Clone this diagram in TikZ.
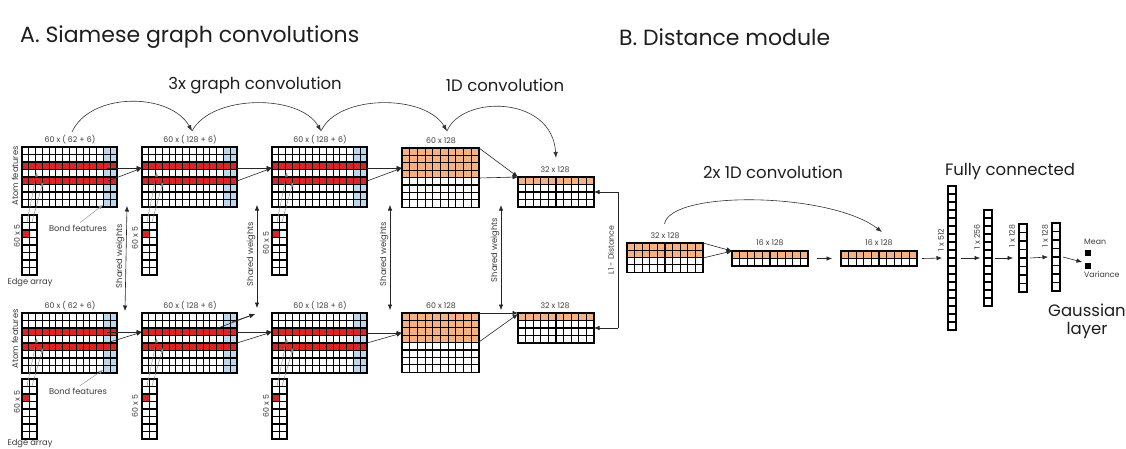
\documentclass[tikz,border=0pt]{standalone}
\usepackage{fontspec}
\setmainfont{Poppins}
\usetikzlibrary{arrows.meta,calc}
\definecolor{redc}{RGB}{218,37,37}
\definecolor{bluec}{RGB}{189,215,238}
\definecolor{orc}{RGB}{244,177,131}
\definecolor{txt}{RGB}{60,60,60}
\definecolor{ttl}{RGB}{30,30,30}
\tikzset{
  gl/.style={draw=black, line width=1.1pt, line cap=rect},
  box/.style={draw=none, inner sep=0pt, outer sep=0pt, anchor=north west},
  conn/.style={draw=black!85, line width=0.6pt, -{Latex[length=5.5pt,width=4.5pt]}},
  dconn/.style={draw=black!85, line width=0.6pt, {Latex[length=5.5pt,width=4.5pt]}-{Latex[length=5.5pt,width=4.5pt]}},
  plain/.style={draw=black!85, line width=0.6pt},
  thinl/.style={draw=black!45, line width=0.45pt, -{Latex[length=4.5pt,width=3.5pt]}},
  arcl/.style={draw=black!80, line width=0.6pt, -{Latex[length=6pt,width=4.5pt]}},
  title/.style={font=\fontsize{22}{25}\selectfont, text=ttl, inner sep=0pt},
  mid/.style={font=\fontsize{16.5}{19}\selectfont, text=ttl, inner sep=0pt},
  lab/.style={font=\fontsize{7.8}{9}\selectfont, text=txt, inner sep=0pt},
  slab/.style={font=\fontsize{8.3}{10}\selectfont, text=txt, inner sep=0pt},
}
\newcommand{\cellgrid}[6]{%
  \foreach \ii in {0,...,#3}{\draw[gl] ({#1+\ii*#5},{#2}) -- ({#1+\ii*#5},{#2+#4*#6});}%
  \foreach \jj in {0,...,#4}{\draw[gl] ({#1},{#2+\jj*#6}) -- ({#1+#3*#5},{#2+\jj*#6});}%
}
\newcommand{\gcblock}[3]{%
  \node[box, minimum width=95pt, minimum height=60pt, fill=white] (#1) at (#2,#3) {};
  \fill[bluec] ({#2+81.43},{#3}) rectangle ({#2+95},{#3+60});
  \fill[redc] ({#2},{#3+15}) rectangle ({#2+95},{#3+22.5});
  \fill[redc] ({#2},{#3+30}) rectangle ({#2+95},{#3+37.5});
  \cellgrid{#2}{#3}{14}{8}{6.7857}{7.5}%
}
\newcommand{\edgearr}[3]{%
  \node[box, minimum width=15pt, minimum height=60pt, fill=white] (#1) at (#2,#3) {};
  \fill[redc] ({#2},{#3+15}) rectangle ({#2+7.5},{#3+22.5});
  \cellgrid{#2}{#3}{2}{8}{7.5}{7.5}%
}
\newcommand{\oblock}[8]{%
  \node[box, minimum width={#4*#6*1pt}, minimum height={#5*#7*1pt}, fill=white] (#1) at (#2,#3) {};
  \fill[orc] ({#2},{#3}) rectangle ({#2+#4*#6},{#3+#8*#7});
  \cellgrid{#2}{#3}{#4}{#5}{#6}{#7}%
}
\newcommand{\fccol}[5]{%
  \node[box, minimum width=8pt, minimum height={#4*#5*1pt}, fill=white] (#1) at (#2,#3) {};
  \cellgrid{#2}{#3}{1}{#4}{8}{#5}%
}
\begin{document}
\begin{tikzpicture}[x=1pt,y=-1pt]
\fill[white] (0,0) rectangle (1126,449);
\useasboundingbox (0,0) rectangle (1126,449);

% titles
\node[title, anchor=west] (tA) at (20,37) {A. Siamese graph convolutions};
\node[title, anchor=west] (tB) at (619,37) {B. Distance module};
\node[mid] (hgc) at (255,85) {3x graph convolution};
\node[mid] (h1d) at (505,85) {1D convolution};
\node[mid] (h2x) at (773,172) {2x 1D convolution};
\node[mid] (hfc) at (1010,172) {Fully connected};
\node[mid] (hg1) at (1087,310) {Gaussian};
\node[mid] (hg2) at (1087,331) {layer};

% ---------- top row ----------
\gcblock{t1}{22}{147}
\gcblock{t2}{142}{147}
\gcblock{t3}{272}{147}
\oblock{t4}{402}{148}{10}{8}{7.7}{7.4}{4}
\oblock{t5}{518}{177}{10}{4}{7.6}{7.5}{1}
\edgearr{e1}{22}{215}
\edgearr{e2}{142}{215}
\edgearr{e3}{272}{215}

% ---------- bottom row ----------
\gcblock{b1}{22}{313}
\gcblock{b2}{142}{313}
\gcblock{b3}{272}{313}
\oblock{b4}{402}{313}{10}{8}{7.7}{7.4}{4}
\oblock{b5}{518}{313}{10}{4}{7.6}{7.5}{1}
\edgearr{f1}{22}{379}
\edgearr{f2}{142}{379}
\edgearr{f3}{272}{379}

% ---------- distance module ----------
\oblock{d1}{627}{243}{10}{4}{7.6}{7.3}{2}
\oblock{d2}{732}{251}{10}{2}{7.6}{7.5}{1}
\oblock{d3}{841}{251}{10}{2}{7.6}{7.5}{1}
\fccol{fc1}{948}{186}{18}{8}
\fccol{fc2}{984}{210}{12}{8}
\fccol{fc3}{1019}{224}{8}{8.5}
\fccol{fc4}{1052}{223}{8}{8.5}
\node[box, fill=black, minimum width=6pt, minimum height=6pt] (mean) at (1085,250) {};
\node[box, fill=black, minimum width=6pt, minimum height=6pt] (var) at (1085,263) {};

% ---------- block labels ----------
\node[lab] (l1) at (70,140) {60 x ( 62 + 6)};
\node[lab] (l2) at (190,140) {60 x ( 128 + 6)};
\node[lab] (l3) at (320,140) {60 x ( 128 + 6)};
\node[lab] (l4) at (441,141) {60 x 128};
\node[lab] (l5) at (555,170) {32 x 128};
\node[lab] (m1) at (70,306) {60 x ( 62 + 6)};
\node[lab] (m2) at (190,306) {60 x ( 128 + 6)};
\node[lab] (m3) at (320,306) {60 x ( 128 + 6)};
\node[lab] (m4) at (441,306) {60 x 128};
\node[lab] (m5) at (555,306) {32 x 128};
\node[lab] (ld1) at (665,236) {32 x 128};
\node[lab] (ld2) at (770,243) {16 x 128};
\node[lab] (ld3) at (879,243) {16 x 128};
\node[lab, rotate=90] (lf1) at (941,240) {1 x 512};
\node[lab, rotate=90] (lf2) at (977,237) {1 x 256};
\node[lab, rotate=90] (lf3) at (1012,236) {1 x 128};
\node[lab, rotate=90] (lf4) at (1045,236) {1 x 128};
\node[lab, anchor=west] (lmean) at (1084,242) {Mean};
\node[lab, anchor=west] (lvar) at (1084,275) {Variance};

\node[slab, rotate=90] (af1) at (15,176) {Atom features};
\node[slab, rotate=90] (af2) at (15,339) {Atom features};
\node[slab] (bf1) at (78,228) {Bond features};
\node[slab] (bf2) at (78,391) {Bond features};
\node[slab] (ea1) at (30,283) {Edge array};
\node[slab] (ea2) at (30,444) {Edge array};
\node[lab, rotate=90] (s1) at (17,236) {60 x 5};
\node[lab, rotate=90] (s2) at (135,238) {60 x 5};
\node[lab, rotate=90] (s3) at (266,243) {60 x 5};
\node[lab, rotate=90] (s4) at (17,402) {60 x 5};
\node[lab, rotate=90] (s5) at (135,406) {60 x 5};
\node[lab, rotate=90] (s6) at (266,406) {60 x 5};
\node[slab, rotate=90] (w1) at (120,256) {Shared weights};
\node[slab, rotate=90] (w2) at (251,254) {Shared weights};
\node[slab, rotate=90] (w3) at (384,254) {Shared weights};
\node[slab, rotate=90] (w4) at (495,250) {Shared weights};
\node[lab, rotate=90] (l1d) at (611,250) {L1 - Distance};

% ---------- bond feature pointers ----------
\draw[thinl] ($(bf1.north)+(2,-2)$) -- ($(t1.north west)+(81,58)$);
\draw[thinl] ($(bf2.north)+(2,-2)$) -- ($(b1.north west)+(81,57)$);

% ---------- edge array pointers ----------
\foreach \blk/\ea in {t1/e1,t2/e2,t3/e3,b1/f1,b2/f2,b3/f3}{
  \draw[thinl] ($(\ea.north west)+(5,7)$) -- ($(\blk.north west)+(15,25)$);
  \draw[thinl] ($(\ea.north west)+(10,7)$) -- ($(\blk.north west)+(21,35)$);
}

% ---------- graph conv connectors ----------
\draw[conn] ($(t1.north west)+(85,21)$) -- ($(t2.north west)+(0,21)$);
\draw[conn] ($(t1.north west)+(86,34)$) -- ($(t2.north west)+(0,21)$);
\draw[conn] ($(t2.north east)+(0,21)$) -- ($(t3.north west)+(0,21)$);
\draw[conn] ($(t2.north east)+(0,34)$) -- ($(t3.north west)+(0,21)$);
\draw[conn] ($(t3.north east)+(0,21)$) -- ($(t4.north west)+(0,20)$);
\draw[conn] ($(t3.north east)+(0,34)$) -- ($(t4.north west)+(0,20)$);
\draw[conn] (t4.north east) -- ($(t5.north west)+(0,0)$);
\draw[conn] ($(t4.north east)+(0,30)$) -- ($(t5.north west)+(0,0)$);

\draw[conn] ($(b1.north west)+(85,19)$) -- ($(b2.north west)+(0,19)$);
\draw[conn] ($(b1.north west)+(88,29)$) -- ($(b2.north west)+(0,19)$);
\draw[conn] ($(b2.north east)+(0,19)$) -- ($(b3.north west)+(0,19)$);
\draw[conn] ($(b2.north east)+(0,30)$) -- ($(b3.north west)+(0,19)$);
\draw[conn] ($(b2.north west)+(76,15)$) -- ($(b2.north east)+(18,1)$);
\draw[conn] ($(b2.north west)+(90,9)$) -- ($(b2.north east)+(18,1)$);
\draw[conn] ($(b3.north east)+(0,20)$) -- ($(b4.north west)+(0,20)$);
\draw[conn] ($(b3.north east)+(0,30)$) -- ($(b4.north west)+(0,20)$);
\draw[conn] (b4.north east) -- (b5.north west);
\draw[conn] ($(b4.north east)+(0,29)$) -- ($(b5.north west)+(0,1)$);

% ---------- shared weights ----------
\draw[dconn] ($(t1.south east)+(10,-1)$) -- ($(b1.north east)+(8,-2)$);
\draw[dconn] ($(t2.south east)+(20,-2)$) -- ($(b2.north east)+(20,-5)$);
\draw[dconn] ($(t3.south east)+(23,-2)$) -- ($(b3.north east)+(23,-3)$);
\draw[dconn] ($(t4.south east)+(22,-2)$) -- ($(b4.north east)+(22,-3)$);

% ---------- L1 distance ----------
\coordinate (lk1) at (618,192);
\coordinate (lk2) at (618,328);
\draw[conn] (lk1) -- ($(t5.south east)+(0,-15)$);
\draw[plain] (lk1) -- (lk2);
\draw[conn] (lk2) -- ($(b5.north east)+(0,15)$);

% ---------- distance module connectors ----------
\draw[conn] (d1.north east) -- ($(d2.north west)+(0,0)$);
\draw[conn] ($(d1.north east)+(0,15)$) -- ($(d2.north west)+(0,0)$);
\draw[conn] ($(d2.east)+(9,0)$) -- ($(d3.west)+(-9,0)$);
\draw[conn] ($(d3.east)+(5,0)$) -- ($(fc1.west)+(-6,0)$);
\draw[conn] ($(fc1.east)+(5,0)$) -- ($(fc2.west)+(-4,0)$);
\draw[conn] ($(fc2.east)+(3,0)$) -- ($(fc3.west)+(-6,0)$);
\draw[conn] ($(fc3.east)+(3,0)$) -- ($(fc4.west)+(-4,0)$);
\draw[conn] ($(fc4.east)+(3,0)$) -- ($(mean.south west)+(-3,6)$);

% ---------- arcs ----------
\coordinate (a0) at (72,132);
\coordinate (a1) at (192,131);
\coordinate (a2) at (321,131);
\coordinate (a3) at (447,131);
\coordinate (a4) at (556,158);
\draw[arcl] (a0) .. controls (90,92) and (170,92) .. (a1);
\draw[arcl] (a1) .. controls (212,94) and (300,94) .. (a2);
\draw[arcl] (a2) .. controls (338,94) and (425,94) .. (a3);
\draw[arcl] (a3) .. controls (462,95) and (552,95) .. (a4);
\draw[arcl] ($(d1.north)+(-0.5,-19)$) .. controls (670,190) and (830,192) .. ($(d3.north)+(3,-19)$);
\end{tikzpicture}
\end{document}
